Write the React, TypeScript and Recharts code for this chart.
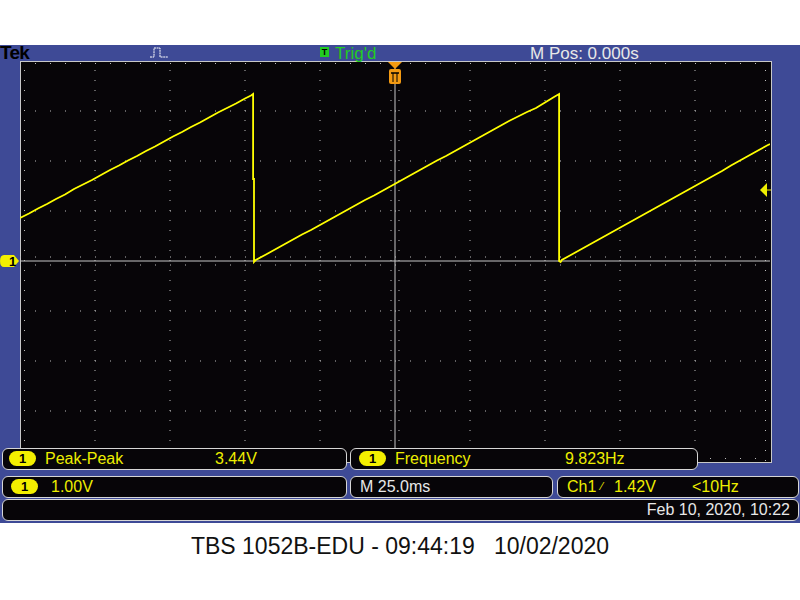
import React from "react";
import { LineChart, Line, XAxis, YAxis, ReferenceLine, ReferenceDot } from "recharts";

// time (ms) and voltage (V)
const timeMs = [
  -125, -122, -119, -116, -113, -110, -107, -104, -101, -98, -95, -92, -89, -86, -83, -80, -77, -74, -71, -68,
  -65, -62, -59, -56, -53, -50, -48, -47.3, -47.3, -47.0, -47.0, -46.4,
  -43, -40, -37, -34, -31, -28, -25, -22, -19, -16, -13, -10, -7, -4, -1, 2, 5, 8, 11, 14, 17, 20, 23, 26, 29,
  32, 35, 38, 41, 44, 47, 50, 53, 54.7, 54.7, 55.2,
  55.6, 58, 61, 64, 67, 70, 73, 76, 79, 82, 85, 88, 91, 94, 97, 100, 103, 106, 109, 112, 115, 118, 121, 124, 125,
];
const volts = [
  0.86, 0.95, 1.05, 1.14, 1.24, 1.33, 1.44, 1.53, 1.62, 1.72, 1.82, 1.91, 2.01, 2.10, 2.20, 2.29, 2.39, 2.49, 2.58, 2.68,
  2.77, 2.87, 2.97, 3.06, 3.15, 3.25, 3.31, 3.34, 1.64, 1.64, -0.02, 0.02,
  0.13, 0.23, 0.33, 0.43, 0.53, 0.62, 0.72, 0.82, 0.92, 1.02, 1.12, 1.22, 1.31, 1.41, 1.51, 1.61, 1.71, 1.81, 1.91, 2.01, 2.10, 2.20, 2.30, 2.40, 2.50,
  2.60, 2.70, 2.80, 2.89, 2.98, 3.06, 3.17, 3.28, 3.34, 0.00, -0.02,
  0.02, 0.10, 0.20, 0.30, 0.40, 0.50, 0.60, 0.70, 0.80, 0.90, 1.00, 1.10, 1.20, 1.30, 1.40, 1.50, 1.60, 1.70, 1.80, 1.91, 2.01, 2.11, 2.21, 2.31, 2.34,
];

// graticule divisions
const xDivTicks = [-100, -75, -50, -25, 25, 50, 75, 100];
const yDivTicks = [-3, -2, -1, 1, 2, 3];
const triggerLevel = 1.42;

const data = timeMs.map((t, i) => ({ t, v: volts[i] }));

const GRID = "#bcbcbc";
const YEL = "#eeee00";
const BLUE = "#3e4a96";
const BG = "#070508";
const FONT = '"Liberation Sans", Arial, sans-serif';

const panel = (left: number, top: number, width: number): React.CSSProperties => ({
  position: "absolute",
  left,
  top,
  width,
  height: 22,
  background: BG,
  border: "1px solid #d6d6d6",
  borderRadius: 6,
  boxSizing: "border-box",
});

const txt = (left: number, top: number, color: string, size = 16): React.CSSProperties => ({
  position: "absolute",
  left,
  top,
  color,
  fontSize: size,
  lineHeight: "20px",
  whiteSpace: "pre",
});

const Badge = ({ left, top }: { left: number; top: number }) => (
  <div
    style={{
      position: "absolute",
      left,
      top,
      width: 27,
      height: 15,
      borderRadius: 8,
      background: "#f4ef00",
      color: "#000",
      fontSize: 13,
      lineHeight: "15px",
      textAlign: "center",
      fontWeight: "bold",
    }}
  >
    1
  </div>
);

const TrigArrow = (props: any) => {
  const { cx, cy } = props;
  return (
    <g>
      <polygon points={`${cx - 10},${cy} ${cx - 3},${cy - 7} ${cx - 3},${cy + 7}`} fill={YEL} />
      <line x1={cx - 3} y1={cy} x2={cx + 1} y2={cy} stroke={YEL} strokeWidth={1} />
    </g>
  );
};

const TrigPos = (props: any) => {
  const { cx, cy } = props;
  return (
    <g>
      <polygon points={`${cx - 7},${cy + 1} ${cx + 7},${cy + 1} ${cx},${cy + 8}`} fill="#f39a12" />
      <rect x={cx - 6} y={cy + 8} width={12} height={15} rx={2} fill="#f39a12" />
      <line x1={cx - 4} y1={cy + 12} x2={cx + 4} y2={cy + 12} stroke="#000" strokeWidth={1.5} />
      <line x1={cx - 2} y1={cy + 12} x2={cx - 2} y2={cy + 21} stroke="#000" strokeWidth={1} />
      <line x1={cx + 2} y1={cy + 12} x2={cx + 2} y2={cy + 21} stroke="#000" strokeWidth={1} />
    </g>
  );
};

const GroundMark = (props: any) => {
  const { cx, cy } = props;
  const x0 = cx - 20;
  return (
    <g>
      <path
        d={`M${x0 + 4},${cy - 6} L${cx - 6},${cy - 6} L${cx - 1},${cy} L${cx - 6},${cy + 6} L${x0 + 4},${cy + 6} Q${x0},${cy + 6} ${x0},${cy} Q${x0},${cy - 6} ${x0 + 4},${cy - 6} Z`}
        fill="#f4ef00"
      />
      <text x={x0 + 9} y={cy + 5} fontSize={13} fontWeight="bold" fill="#000" fontFamily={FONT}>
        1
      </text>
    </g>
  );
};

export default function App() {
  return (
    <div
      style={{
        position: "absolute",
        left: 0,
        top: 0,
        width: 800,
        height: 600,
        background: "#ffffff",
        fontFamily: FONT,
        overflow: "hidden",
      }}
    >
      {/* blue frame */}
      <div style={{ position: "absolute", left: 0, top: 45, width: 800, height: 478, background: BLUE }} />
      {/* screen */}
      <div
        style={{
          position: "absolute",
          left: 20,
          top: 61,
          width: 752,
          height: 402,
          background: BG,
          border: "1px solid #c8c8c8",
          boxSizing: "border-box",
        }}
      />

      {/* top bar */}
      <div style={{ ...txt(0, 43, "#000", 19), fontWeight: "bold", letterSpacing: -0.8 }}>Tek</div>
      <svg style={{ position: "absolute", left: 148, top: 46 }} width={24} height={14}>
        <path d="M2,11 L6,11 L6,2 L12,2 L12,11 L20,11" stroke="#fff" fill="none" strokeWidth={1} strokeDasharray="2 0.6" />
      </svg>
      <div
        style={{
          position: "absolute",
          left: 320,
          top: 47,
          width: 9,
          height: 10,
          background: "#22cc22",
          color: "#000",
          fontSize: 9,
          lineHeight: "10px",
          textAlign: "center",
          fontWeight: "bold",
        }}
      >
        T
      </div>
      <div style={txt(335, 44, "#22cc22", 17)}>Trig'd</div>
      <div style={txt(530, 44, "#e8e8e8", 17)}>M Pos: 0.000s</div>

      {/* chart */}
      <div style={{ position: "absolute", left: 0, top: 0 }}>
        <LineChart width={800} height={600} data={data} margin={{ top: 61, left: 20, right: 30, bottom: 139 }}>
          <XAxis type="number" dataKey="t" domain={[-125, 125]} hide allowDataOverflow />
          <YAxis type="number" domain={[-4, 4]} hide allowDataOverflow />
          {xDivTicks.map((x) => (
            <ReferenceLine key={`vx${x}`} x={x} stroke={GRID} strokeDasharray="1 9" />
          ))}
          {yDivTicks.map((y) => (
            <ReferenceLine key={`hy${y}`} y={y} stroke={GRID} strokeDasharray="1 14" />
          ))}
          {/* edge ticks */}
          <ReferenceLine y={3.95} stroke={GRID} strokeDasharray="1 14" />
          <ReferenceLine y={-3.95} stroke={GRID} strokeDasharray="1 14" />
          <ReferenceLine x={-123.5} stroke={GRID} strokeDasharray="1 9" />
          <ReferenceLine x={123.5} stroke={GRID} strokeDasharray="1 9" />
          {/* centre axis ticks */}
          <ReferenceLine y={0.08} stroke={GRID} strokeDasharray="1 14" />
          <ReferenceLine y={-0.08} stroke={GRID} strokeDasharray="1 14" />
          <ReferenceLine x={-1.33} stroke={GRID} strokeDasharray="1 9" />
          <ReferenceLine x={1.33} stroke={GRID} strokeDasharray="1 9" />
          {/* centre lines */}
          <ReferenceLine x={0} stroke="#c8c8c8" strokeWidth={1} />
          <ReferenceLine y={0} stroke="#c8c8c8" strokeWidth={1} />
          <Line
            type="linear"
            dataKey="v"
            stroke="#ffff00"
            strokeWidth={1.8}
            dot={false}
            isAnimationActive={false}
          />
          <ReferenceDot x={125} y={triggerLevel} ifOverflow="visible" shape={TrigArrow} />
          <ReferenceDot x={0} y={4} ifOverflow="visible" shape={TrigPos} />
          <ReferenceDot x={-125} y={0} ifOverflow="visible" shape={GroundMark} />
        </LineChart>
      </div>

      {/* measurement panels */}
      <div style={panel(2, 448, 345)} />
      <Badge left={9} top={451} />
      <div style={txt(45, 449, YEL)}>Peak-Peak</div>
      <div style={txt(215, 449, YEL)}>3.44V</div>

      <div style={panel(350, 448, 348)} />
      <Badge left={359} top={451} />
      <div style={txt(395, 449, YEL)}>Frequency</div>
      <div style={txt(565, 449, YEL)}>9.823Hz</div>

      <div style={panel(2, 476, 345)} />
      <Badge left={11} top={479} />
      <div style={txt(51, 477, YEL)}>1.00V</div>

      <div style={panel(350, 476, 203)} />
      <div style={txt(360, 477, "#e8e8e8")}>M 25.0ms</div>

      <div style={panel(557, 476, 242)} />
      <div style={txt(567, 477, YEL)}>Ch1</div>
      <div style={txt(601, 476, YEL, 11)}>⁄</div>
      <div style={txt(614, 477, YEL)}>1.42V</div>
      <div style={txt(692, 477, YEL)}>&lt;10Hz</div>

      <div style={panel(2, 499, 797)} />
      <div style={{ ...txt(0, 500, "#e8e8e8"), left: "auto", right: 10 }}>Feb 10, 2020, 10:22</div>

      {/* caption */}
      <div
        style={{
          position: "absolute",
          left: 0,
          top: 533,
          width: 800,
          textAlign: "center",
          fontSize: 23,
          color: "#111",
          whiteSpace: "pre",
        }}
      >
        {"TBS 1052B-EDU - 09:44:19   10/02/2020"}
      </div>
    </div>
  );
}
